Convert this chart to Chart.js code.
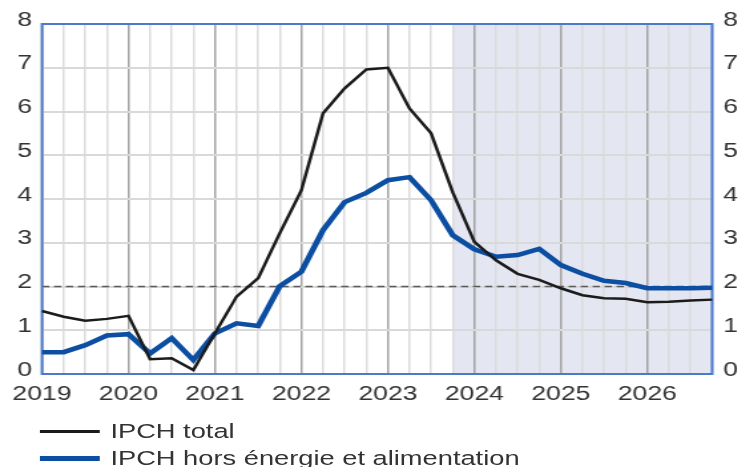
<!DOCTYPE html>
<html><head><meta charset="utf-8">
<script src="https://cdn.jsdelivr.net/npm/chart.js@4/dist/chart.umd.min.js"></script>
<style>
html,body{margin:0;padding:0;background:#fff;overflow:hidden;width:738px;height:467px;}
#wrap{position:absolute;left:0;top:0;width:555px;height:467px;transform:scaleX(1.33);transform-origin:0 0;}
canvas{position:absolute;left:0;top:0;}
.leg{position:absolute;left:0;width:555px;height:26px;font-family:'Liberation Sans',Arial,sans-serif;font-size:20.5px;color:#333;white-space:nowrap;}
.sw{position:absolute;left:30px;width:45px;}
.lt{position:absolute;left:83px;top:0;line-height:26px;}
</style></head>
<body>
<div id="wrap"><canvas id="c" width="555" height="467"></canvas><div id="legend"></div></div>
<script>
// Quarterly categories (T = trimestre)
const quarters = ["2019T1","2019T2","2019T3","2019T4","2020T1","2020T2","2020T3","2020T4",
  "2021T1","2021T2","2021T3","2021T4","2022T1","2022T2","2022T3","2022T4",
  "2023T1","2023T2","2023T3","2023T4","2024T1","2024T2","2024T3","2024T4",
  "2025T1","2025T2","2025T3","2025T4","2026T1","2026T2","2026T3","2026T4"];
const ipchTotal = [1.44,1.31,1.22,1.26,1.33,0.34,0.36,0.09,0.93,1.77,2.19,3.22,4.2,5.96,6.53,6.96,
  7.0,6.07,5.5,4.15,3.02,2.6,2.29,2.15,1.96,1.8,1.73,1.72,1.64,1.65,1.68,1.7];
const ipchCore = [0.5,0.5,0.66,0.88,0.91,0.47,0.82,0.32,0.93,1.16,1.1,2.01,2.34,3.29,3.93,4.14,
  4.43,4.5,3.97,3.17,2.85,2.68,2.72,2.86,2.49,2.29,2.13,2.08,1.96,1.96,1.96,1.97];
const seriesNames = ["IPCH total","IPCH hors énergie et alimentation"];
const seriesColors = ["#1b1b1b","#0c4ea2"];
const yTicks = [0,1,2,3,4,5,6,7,8];
const targetLevel = 2;
const projectionStart = "2023T4";

const SX = 1.33;
const FONT = "'Liberation Sans', Arial, sans-serif";

const decor = {
  id: 'decor',
  beforeDraw(chart) {
    const {ctx, chartArea: a, scales: {x}} = chart;
    const x0 = x.getPixelForValue(quarters.indexOf(projectionStart));
    ctx.save();
    ctx.fillStyle = '#e4e6f2';
    ctx.fillRect(x0, a.top, a.right - x0, a.bottom - a.top);
    ctx.restore();
  },
  beforeDatasetsDraw(chart) {
    const {ctx, chartArea: a, scales: {y}} = chart;
    const yp = y.getPixelForValue(targetLevel);
    ctx.save();
    ctx.strokeStyle = '#5a5a5a';
    ctx.lineWidth = 1.6;
    ctx.setLineDash([5.5, 3.5]);
    ctx.beginPath(); ctx.moveTo(a.left, yp); ctx.lineTo(a.right, yp); ctx.stroke();
    ctx.setLineDash([]);
    ctx.strokeStyle = '#4a7bc8';
    ctx.lineWidth = 2;
    ctx.strokeRect(a.left, a.top, a.right - a.left, a.bottom - a.top);
    ctx.restore();
  }
};

const tickFont = {family: FONT, size: 20};
new Chart(document.getElementById('c'), {
  type: 'line',
  data: {
    labels: quarters,
    datasets: [
      {label: seriesNames[0], data: ipchTotal, borderColor: seriesColors[0], borderWidth: 2.5, pointRadius: 0, tension: 0, yAxisID: 'y'},
      {label: seriesNames[1], data: ipchCore, borderColor: seriesColors[1], borderWidth: 4.5, pointRadius: 0, tension: 0, yAxisID: 'y'}
    ]
  },
  options: {
    responsive: false,
    animation: false,
    layout: {padding: {top: 24, left: 0, right: 0, bottom: 0}},
    plugins: {legend: {display: false}, tooltip: {enabled: false}},
    scales: {
      x: {
        type: 'category',
        offset: false,
        border: {display: false},
        grid: {
          drawTicks: false,
          lineWidth: 1.5,
          color: c => (c.index % 4 === 0 ? '#a3a3a3' : '#dcdcdc')
        },
        ticks: {
          autoSkip: false, maxRotation: 0, minRotation: 0, padding: 8,
          color: '#333', font: tickFont,
          callback: function(v, i) { const l = quarters[i]; return l.endsWith('T1') ? l.slice(0, 4) : ''; }
        },
        afterFit: s => { s.height = 93; }
      },
      y: {
        position: 'left', min: 0, max: 8,
        border: {display: false},
        grid: {drawTicks: false, color: '#d9d9d9', lineWidth: 2},
        afterBuildTicks: s => { s.ticks = yTicks.map(v => ({value: v})); },
        ticks: {padding: 7.5, labelOffset: -4, color: '#333', font: tickFont},
        afterFit: s => { s.width = 42 / SX; }
      },
      y2: {
        position: 'right', min: 0, max: 8,
        border: {display: false},
        grid: {display: false, drawTicks: false},
        afterBuildTicks: s => { s.ticks = yTicks.map(v => ({value: v})); },
        ticks: {padding: 8.3, labelOffset: -4, color: '#333', font: tickFont},
        afterFit: s => { s.width = 26 / SX; }
      }
    }
  },
  plugins: [decor]
});

// HTML legend
const legendTops = [418, 445];
const swH = [2.5, 4.5];
const lg = document.getElementById('legend');
seriesNames.forEach((n, i) => {
  const row = document.createElement('div');
  row.className = 'leg';
  row.style.top = legendTops[i] + 'px';
  const sw = document.createElement('div');
  sw.className = 'sw';
  sw.style.height = swH[i] + 'px';
  sw.style.top = (13.5 - swH[i] / 2) + 'px';
  sw.style.background = seriesColors[i];
  const t = document.createElement('span');
  t.className = 'lt';
  t.textContent = n;
  row.appendChild(sw); row.appendChild(t);
  lg.appendChild(row);
});
</script>
</body></html>
